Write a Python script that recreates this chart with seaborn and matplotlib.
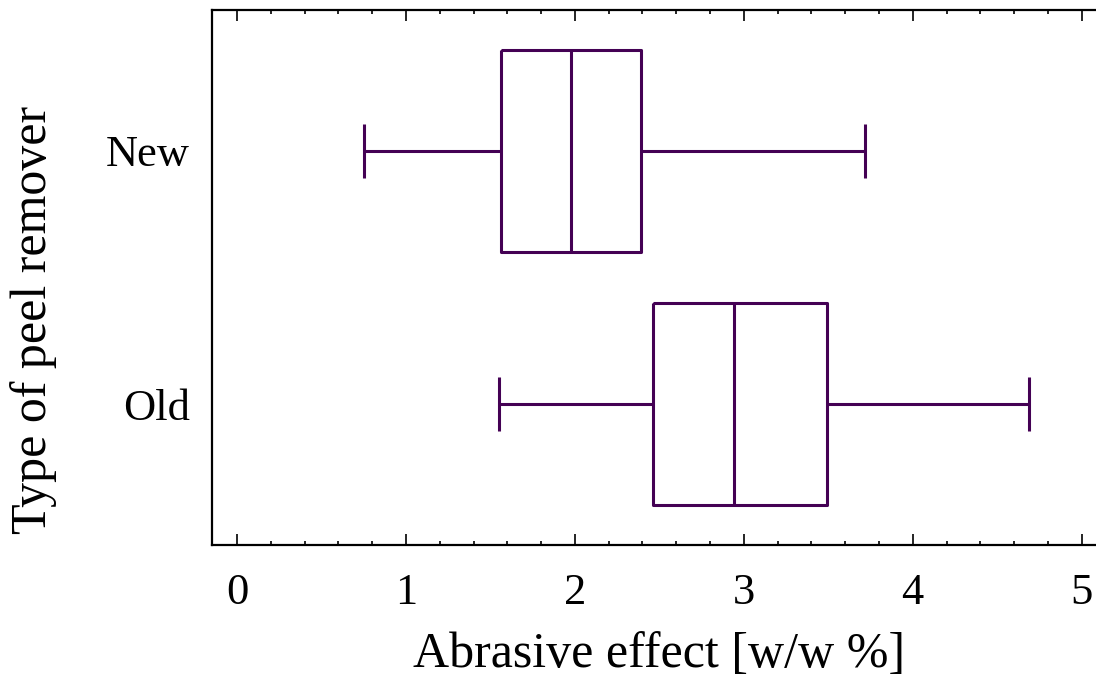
import matplotlib
matplotlib.use("Agg")
import matplotlib.pyplot as plt
import seaborn as sns
import pandas as pd
import numpy as np
from matplotlib.ticker import MultipleLocator

categories = ["New", "Old"]
# five-number summaries: min, Q1, median, Q3, max
new_vals = [0.75, 1.56, 1.98, 2.39, 3.72]
old_vals = [1.55, 2.46, 2.94, 3.49, 4.69]
xticks = [0, 1, 2, 3, 4, 5]

df = pd.DataFrame({
    "group": ["New"] * len(new_vals) + ["Old"] * len(old_vals),
    "value": new_vals + old_vals,
})

sns.set_style("white")
plt.rcParams["font.family"] = ["Liberation Serif", "DejaVu Serif"]
plt.rcParams["text.color"] = "black"
plt.rcParams["axes.labelcolor"] = "black"
plt.rcParams["xtick.color"] = "black"
plt.rcParams["ytick.color"] = "black"

color = "#440154"
fig = plt.figure(figsize=(10.96, 6.84), dpi=100)
ax = fig.add_axes([212 / 1096, 1 - 545 / 684, 895 / 1096, 535 / 684])

sns.boxplot(data=df, x="value", y="group", order=categories, ax=ax,
            whis=(0, 100), width=0.8, fill=False, color=color, linewidth=2.2,
            showfliers=False)

# shorten caps
for line in ax.lines:
    ydata = np.asarray(line.get_ydata(), dtype=float)
    xdata = np.asarray(line.get_xdata(), dtype=float)
    if len(xdata) == 2 and xdata[0] == xdata[1] and abs(ydata[1] - ydata[0]) < 0.5 and abs(ydata[1]-ydata[0]) > 0.01:
        c = ydata.mean()
        line.set_ydata([c - 0.105, c + 0.105])
    line.set_solid_capstyle("butt")

ax.set_xlim(-0.148, 5.15)
ax.set_ylim(1.557, -0.557)
ax.set_xticks(xticks)
ax.xaxis.set_minor_locator(MultipleLocator(0.2))
ax.tick_params(axis="x", which="major", direction="in", length=8, width=1.2,
               top=True, bottom=True, labelsize=32, pad=20, color="black",
               labelcolor="black")
ax.tick_params(axis="x", which="minor", direction="in", length=3, width=1.2,
               top=True, bottom=True, color="black")
ax.tick_params(axis="y", which="both", length=0, labelsize=32, pad=16,
               labelcolor="black")
for s in ax.spines.values():
    s.set_linewidth(1.6)
    s.set_color("black")
    s.set_visible(True)

ax.set_xlabel("Abrasive effect [w/w %]", fontsize=36, color="black")
ax.set_ylabel("Type of peel remover", fontsize=36, color="black")
ax.xaxis.set_label_coords(0.5, -0.162)
ax.yaxis.set_label_coords(-0.173, 0.42)

fig.savefig("out.png", dpi=100)
